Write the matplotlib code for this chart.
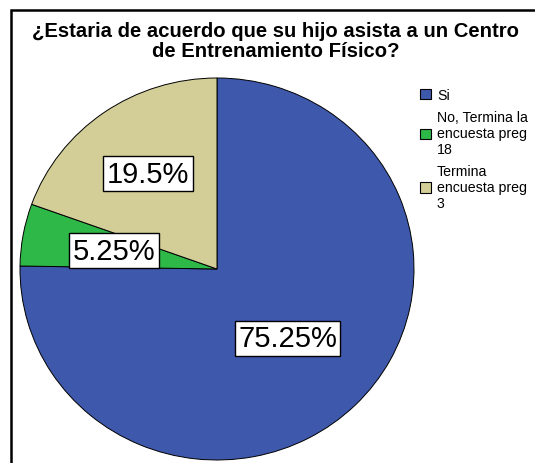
import matplotlib
matplotlib.use('Agg')
import matplotlib.pyplot as plt
import numpy as np
from matplotlib.patches import Rectangle, Patch

plt.rcParams['font.family'] = ['Liberation Sans', 'DejaVu Sans']

title = '¿Estaria de acuerdo que su hijo asista a un Centro\nde Entrenamiento Físico?'
categories = ['Si', 'No, Termina la\nencuesta preg\n18', 'Termina\nencuesta preg\n3']
values = [75.25, 5.25, 19.5]
colors = ['#3E58AC', '#2EB848', '#D3CE97']
label_radius = [0.51, 0.53, 0.61]

W, H = 535, 464
fig = plt.figure(figsize=(W / 100, H / 100), dpi=100)

# pie centre (217, 270) px, radius 197 x 191 px
cx, cy, rx, ry = 217, 270, 197, 191
ax = fig.add_axes([(cx - rx) / W, (H - cy - ry) / H, 2 * rx / W, 2 * ry / H])
wedges, _ = ax.pie(values, colors=colors, startangle=90, counterclock=False,
                   wedgeprops=dict(edgecolor='black', linewidth=0.7))
ax.set_xlim(-1, 1)
ax.set_ylim(-1, 1)
ax.set_aspect('auto')

for w, v, r in zip(wedges, values, label_radius):
    mid = np.deg2rad((w.theta1 + w.theta2) / 2)
    ax.text(r * np.cos(mid), r * np.sin(mid), '{:g}%'.format(v),
            ha='center', va='center', fontsize=21,
            bbox=dict(boxstyle='square,pad=0.12', facecolor='white',
                      edgecolor='black', linewidth=1))

fig.text(276 / W, 1 - 22 / H, title, ha='center', va='top',
         fontsize=14.6, fontweight='bold', linespacing=1.08)

handles = [Patch(facecolor=c, edgecolor='black', linewidth=0.8) for c in colors]
leg = fig.legend(handles, categories, loc='upper left',
                 bbox_to_anchor=(420 / W, 1 - 89 / H), frameon=False,
                 fontsize=10.2, handlelength=0.75, handleheight=0.75,
                 handletextpad=0.45, labelspacing=0.6, borderpad=0,
                 borderaxespad=0)
for t in leg.get_texts():
    t.set_linespacing(1.15)

fig.patches.append(Rectangle((11 / W, -0.1), 1.2, 1 - 11 / H + 0.1,
                             transform=fig.transFigure, fill=False,
                             edgecolor='black', linewidth=1.8))

fig.savefig('out.png', dpi=100)
